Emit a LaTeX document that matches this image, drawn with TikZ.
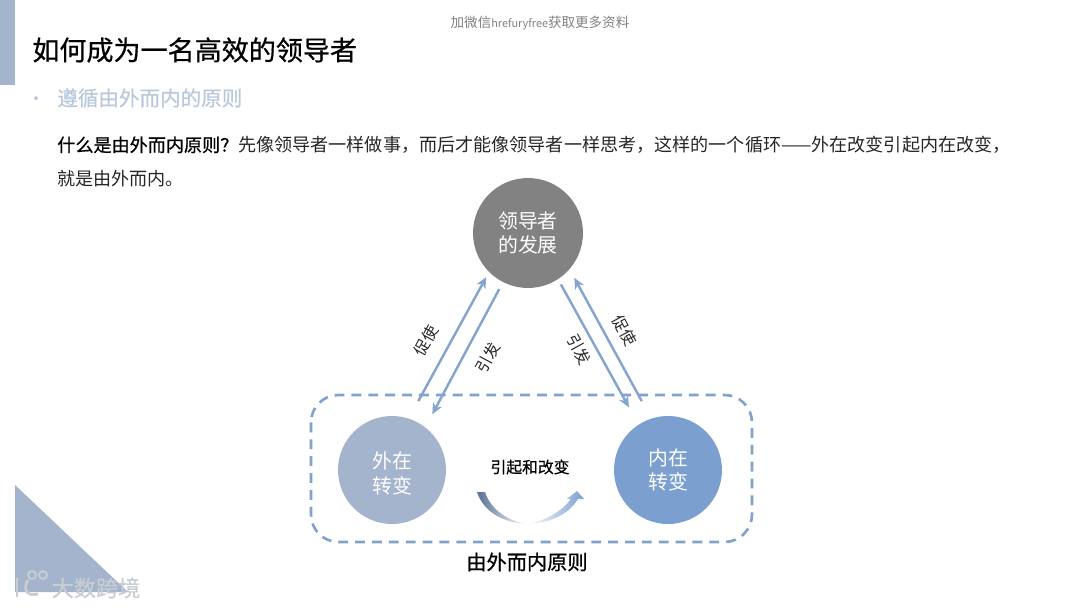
\documentclass[tikz,border=0pt]{standalone}
\usepackage{fontspec}
\setmainfont{Noto Sans CJK SC}
\newfontfamily\semifont[FakeBold=0.6]{Noto Sans CJK SC}
\usepackage{xcolor}
\usetikzlibrary{arrows.meta}
\definecolor{slateblue}{RGB}{163,180,204}
\definecolor{paleblue}{RGB}{184,201,220}
\definecolor{innerblue}{RGB}{123,160,208}
\definecolor{linkblue}{RGB}{133,165,207}
\definecolor{dashblue}{RGB}{130,162,204}
\definecolor{leadgray}{RGB}{130,130,130}
\definecolor{inkgray}{RGB}{38,38,38}
\definecolor{markgray}{RGB}{200,205,212}
\tikzset{
  circlenode/.style={circle, inner sep=0pt, outer sep=0pt, minimum size=2.16cm, text=white, align=center,
    font=\fontsize{11.3}{14.2}\selectfont},
  linelabel/.style={midway, sloped, text=inkgray, inner sep=0pt, font=\fontsize{9}{11}\selectfont},
  flowline/.style={-{Stealth[length=2.2mm,width=2mm]}, linkblue, line width=1.4pt},
  textline/.style={anchor=west, inner sep=0pt, text=inkgray, font=\fontsize{10.3}{12}\selectfont}
}
\begin{document}
\begin{tikzpicture}[x=0.02cm,y=-0.02cm]
  \useasboundingbox (0,0) rectangle (1080,608);
  % page decoration: bar top left, triangle bottom left
  \fill[slateblue] (0,0) rectangle (15,85);
  \fill[slateblue] (15,485) -- (128,592) -- (15,592) -- cycle;
  % heading and text lines
  \node[anchor=center, inner sep=0pt, text=gray] (wechat) at (540,23)
    {\fontsize{7.7}{9}\selectfont 加微信{\fontsize{6.2}{9}\selectfont hrefuryfree}获取更多资料};
  \node[textline, text=black, font=\fontsize{15.4}{18}\selectfont\semifont] (title) at (32,50) {如何成为一名高效的领导者};
  \node[textline, text=paleblue] (bullet) at (27.5,101) {•};
  \node[textline, text=paleblue, font=\fontsize{11.7}{14}\selectfont\semifont] (subtitle) at (57,98) {遵循由外而内的原则};
  \node[textline] (bodya) at (57,145)
    {{\semifont\color{black}什么是由外而内原则？}先像领导者一样做事，而后才能像领导者一样思考，这样的一个循环——外在改变引起内在改变，};
  \node[textline] (bodyb) at (57,179) {就是由外而内。};
  % the three circles
  \node[circlenode, fill=leadgray, minimum size=2.2cm] (lead) at (528,233) {领导者\\的发展};
  \node[circlenode, fill=slateblue] (outer) at (392,470) {\rule{0pt}{13.5pt}外在\\转变};
  \node[circlenode, fill=innerblue] (inner) at (668,470) {内在\\转变};
  % dashed frame round the lower pair
  \draw[dashblue, line width=1.5pt, dash pattern=on 5.6pt off 4pt, rounded corners=0.55cm]
    (311,395) rectangle (752,542);
  \node[inner sep=0pt, text=black, font=\fontsize{11.5}{14}\selectfont\semifont] (frame) at (527,562) {由外而内原则};
  % links to and from the top circle
  \draw[flowline, shorten <=0.4cm, shorten >=0.12cm] (outer.72) -- (lead.225)
    node[linelabel, above=8pt, pos=0.46] (pusha) {促使};
  \draw[flowline, shorten <=0.16cm, shorten >=0.3cm] (lead.243) -- (outer.52)
    node[linelabel, below=8pt, pos=0.45] (causea) {引发};
  \draw[flowline, shorten <=0.12cm, shorten >=0.4cm] (lead.303) -- (inner.123)
    node[linelabel, below=4pt, pos=0.43] (causeb) {引发};
  \draw[flowline, shorten <=0.4cm, shorten >=0.2cm] (inner.108) -- (lead.319)
    node[linelabel, above=6pt, pos=0.53] (pushb) {促使};
  % curved arrow, fading to white in the middle
  \node[inner sep=0pt, text=black, font=\fontsize{9}{11}\selectfont\semifont] (change) at (530,467) {引起和改变};
  \shade[left color=innerblue!70!black, middle color=innerblue!85!white, right color=white]
    (477,492) .. controls (484,513) and (505,523) .. (527,524)
    .. controls (508,521) and (491,510) .. (485,492) -- cycle;
  \shade[left color=white, middle color=innerblue!70!white, right color=innerblue]
    (527,524) .. controls (550,523) and (568,515) .. (578,499) -- (584,499) -- (577,491) -- (567,499) -- (571,499)
    .. controls (561,512) and (545,521) .. (527,524) -- cycle;
  % watermark
  \node[inner sep=0pt, text=markgray, font=\fontsize{12.6}{14}\selectfont\semifont] (mark) at (96,588) {大数跨境};
  \draw[markgray, line width=1.6pt] (17,578) -- (17,597);
  \draw[markgray, line width=1.6pt] (28,580) .. controls (22,590) and (28,597) .. (38,594);
  \draw[markgray, line width=1.1pt] (32,575) circle (4);
  \draw[markgray, line width=1.1pt] (43,575) circle (4);
\end{tikzpicture}
\end{document}
